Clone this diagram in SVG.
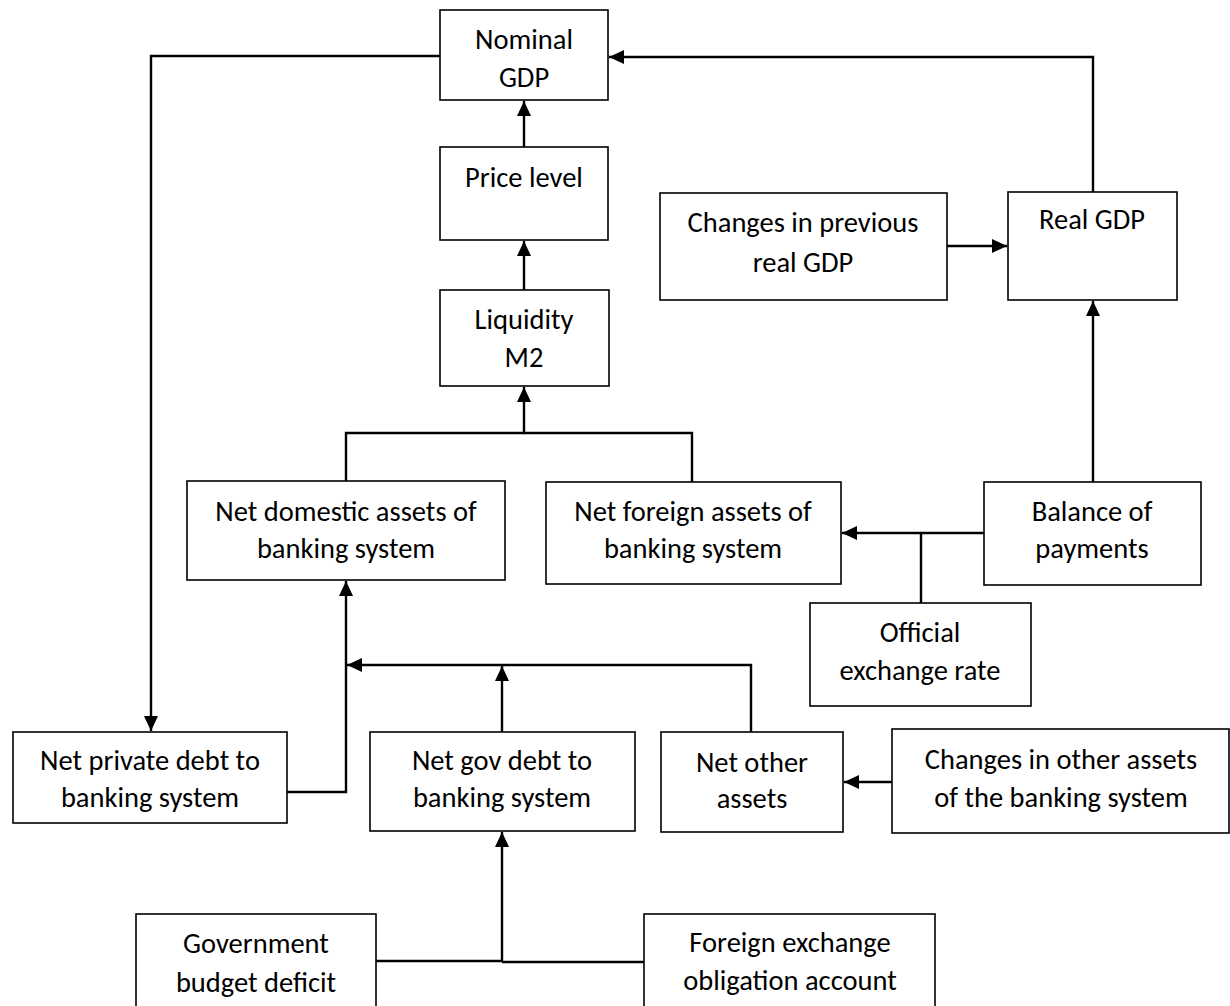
<svg xmlns="http://www.w3.org/2000/svg" width="1230" height="1006" viewBox="0 0 1230 1006">
<defs>
<style>
.box{fill:#fff;stroke:#000;stroke-width:1.6}
.t{font-family:Carlito,Lato,"Liberation Sans",sans-serif;font-size:28.5px;fill:#000;text-anchor:middle}
.c{fill:none;stroke:#000;stroke-width:2.4}
</style>
<marker id="ah" markerUnits="userSpaceOnUse" markerWidth="15" markerHeight="14" refX="15" refY="7" orient="auto"><path d="M0,0 L15,7 L0,14 z" fill="#000"/></marker>
</defs>
<rect width="1230" height="1006" fill="#fff"/>
<g id="connectors">
<polyline class="c" points="440,56 151,56 151,731" marker-end="url(#ah)"/>
<polyline class="c" points="1093,193 1093,57 609,57" marker-end="url(#ah)"/>
<line class="c" x1="524" y1="147" x2="524" y2="101" marker-end="url(#ah)"/>
<line class="c" x1="524" y1="290" x2="524" y2="241" marker-end="url(#ah)"/>
<polyline class="c" points="346,481 346,433 524,433 524,387" marker-end="url(#ah)"/>
<polyline class="c" points="692,482 692,433 524,433"/>
<line class="c" x1="947" y1="246" x2="1007" y2="246" marker-end="url(#ah)"/>
<line class="c" x1="1093" y1="482" x2="1093" y2="301" marker-end="url(#ah)"/>
<line class="c" x1="984" y1="533" x2="842" y2="533" marker-end="url(#ah)"/>
<line class="c" x1="921" y1="603" x2="921" y2="533"/>
<polyline class="c" points="287,792 346,792 346,581" marker-end="url(#ah)"/>
<line class="c" x1="502" y1="732" x2="502" y2="666" marker-end="url(#ah)"/>
<polyline class="c" points="751,732 751,665 347,665" marker-end="url(#ah)"/>
<line class="c" x1="892" y1="782" x2="844" y2="782" marker-end="url(#ah)"/>
<polyline class="c" points="376,961 502,961 502,832" marker-end="url(#ah)"/>
<line class="c" x1="644" y1="962" x2="502" y2="962"/>
</g>
<g id="nominal-gdp"><rect class="box" x="440" y="10" width="168" height="90"/><text class="t" x="524" y="49">Nominal</text><text class="t" x="524" y="87">GDP</text></g>
<g id="price-level"><rect class="box" x="440" y="147" width="168" height="93"/><text class="t" x="524" y="187">Price level</text></g>
<g id="liquidity"><rect class="box" x="440" y="290" width="169" height="96"/><text class="t" x="524" y="329">Liquidity</text><text class="t" x="524" y="367">M2</text></g>
<g id="changes-prev"><rect class="box" x="660" y="193" width="287" height="107"/><text class="t" x="803" y="232">Changes in previous</text><text class="t" x="803" y="272">real GDP</text></g>
<g id="real-gdp"><rect class="box" x="1008" y="192" width="169" height="108"/><text class="t" x="1092" y="229">Real GDP</text></g>
<g id="net-domestic"><rect class="box" x="187" y="481" width="318" height="99"/><text class="t" x="346" y="521">Net domestic assets of</text><text class="t" x="346" y="558">banking system</text></g>
<g id="net-foreign"><rect class="box" x="546" y="482" width="295" height="102"/><text class="t" x="693" y="521">Net foreign assets of</text><text class="t" x="693" y="558">banking system</text></g>
<g id="balance"><rect class="box" x="984" y="482" width="217" height="103"/><text class="t" x="1092" y="521">Balance of</text><text class="t" x="1092" y="558">payments</text></g>
<g id="official"><rect class="box" x="810" y="603" width="221" height="103"/><text class="t" x="920" y="642">Official</text><text class="t" x="920" y="680">exchange rate</text></g>
<g id="net-private"><rect class="box" x="13" y="732" width="274" height="91"/><text class="t" x="150" y="770">Net private debt to</text><text class="t" x="150" y="807">banking system</text></g>
<g id="net-gov"><rect class="box" x="370" y="732" width="265" height="99"/><text class="t" x="502" y="770">Net gov debt to</text><text class="t" x="502" y="807">banking system</text></g>
<g id="net-other"><rect class="box" x="661" y="732" width="182" height="100"/><text class="t" x="752" y="772">Net other</text><text class="t" x="752" y="808">assets</text></g>
<g id="changes-other"><rect class="box" x="892" y="729" width="337" height="104"/><text class="t" x="1061" y="769">Changes in other assets</text><text class="t" x="1061" y="807">of the banking system</text></g>
<g id="gov-deficit"><rect class="box" x="136" y="914" width="240" height="100"/><text class="t" x="256" y="953">Government</text><text class="t" x="256" y="992">budget deficit</text></g>
<g id="fx-obligation"><rect class="box" x="644" y="914" width="291" height="100"/><text class="t" x="790" y="952">Foreign exchange</text><text class="t" x="790" y="990">obligation account</text></g>
</svg>
